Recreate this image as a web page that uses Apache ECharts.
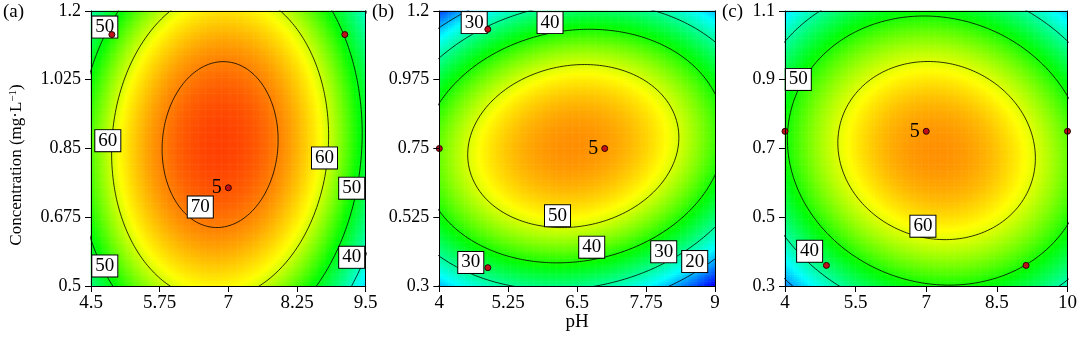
<!DOCTYPE html>
<html>
<head>
<meta charset="utf-8">
<script src="https://cdn.jsdelivr.net/npm/echarts@6/dist/echarts.min.js"></script>
<style>
  html, body { margin: 0; padding: 0; background: #fff; }
  #chart { width: 1080px; height: 342px; }
</style>
</head>
<body>
<div id="chart"></div>
<script>
// Fitted quadratic response models:
// [peak value, pH at peak, concentration at peak, pH² coefficient, conc² coefficient, pH·conc coefficient]
const modelA = [74, 6.85, 0.86, 3.6, 90, 2.0];
const modelB = [59.5, 6.43, 0.758, 2.62, 135, 4.0];
const modelC = [67.8, 7.22, 0.694, 1.785, 117, -2.44];

// Axis ticks
const pHTicksA = [4.5, 5.75, 7, 8.25, 9.5];
const concTicksA = [0.5, 0.675, 0.85, 1.025, 1.2];
const pHTicksB = [4, 5.25, 6.5, 7.75, 9];
const concTicksB = [0.3, 0.525, 0.75, 0.975, 1.2];
const pHTicksC = [4, 5.5, 7, 8.5, 10];
const concTicksC = [0.3, 0.5, 0.7, 0.9, 1.1];

// Contour levels
const levelsA = [40, 50, 60, 70];
const levelsB = [20, 30, 40, 50];
const levelsC = [30, 40, 50, 60];

// Contour level tags: [pH, concentration, level]
const tagsA = [[4.751, 1.159, 50], [4.806, 0.870, 60], [6.489, 0.701, 70], [8.750, 0.826, 60],
               [9.245, 0.749, 50], [9.245, 0.573, 40], [4.751, 0.551, 50]];
const tagsB = [[4.633, 1.162, 30], [6.008, 1.162, 40], [6.144, 0.530, 50], [6.764, 0.427, 40],
               [4.571, 0.377, 30], [8.070, 0.412, 30], [8.632, 0.380, 20]];
const tagsC = [[4.282, 0.901, 50], [6.929, 0.474, 60], [4.523, 0.401, 40]];

// Design points: [pH, concentration, replicate count]
const pointsA = [[4.88, 1.14, 1], [9.12, 1.14, 1], [7, 0.75, 5]];
const pointsB = [[4.88, 1.14, 1], [4, 0.75, 1], [7, 0.75, 5], [4.88, 0.36, 1]];
const pointsC = [[4, 0.75, 1], [7, 0.75, 5], [10, 0.75, 1], [4.88, 0.36, 1], [9.12, 0.36, 1]];

// Colour ramp anchors per panel: [value, colour]
const rampA = [[22, '#0000ff'], [37, '#00ffff'], [51, '#00ff00'], [62, '#ffff00'], [78, '#ff0000']];
const rampB = [[10, '#0000ff'], [24, '#00ffff'], [39, '#00ff00'], [52, '#ffff00'], [69, '#ff0000']];
const rampC = [[21, '#0000ff'], [35, '#00ffff'], [49, '#00ff00'], [61.5, '#ffff00'], [76, '#ff0000']];

const FONT = 'Liberation Serif';
const CELLS = 120;

const panels = [
  { model: modelA, xt: pHTicksA, yt: concTicksA, levels: levelsA, tags: tagsA, pts: pointsA, ramp: rampA,
    tag: '(a)', tagX: 3, grid: { left: 91, top: 11, width: 274.7, height: 275 } },
  { model: modelB, xt: pHTicksB, yt: concTicksB, levels: levelsB, tags: tagsB, pts: pointsB, ramp: rampB,
    tag: '(b)', tagX: 372, grid: { left: 439.3, top: 11, width: 275.7, height: 275 } },
  { model: modelC, xt: pHTicksC, yt: concTicksC, levels: levelsC, tags: tagsC, pts: pointsC, ramp: rampC,
    tag: '(c)', tagX: 722, grid: { left: 785, top: 11, width: 283.3, height: 275 } }
];

function response(m, x, y) {
  const dx = x - m[1], dy = y - m[2];
  return m[0] - m[3] * dx * dx - m[4] * dy * dy + m[5] * dx * dy;
}

function hex2rgb(h) {
  return [parseInt(h.slice(1, 3), 16), parseInt(h.slice(3, 5), 16), parseInt(h.slice(5, 7), 16)];
}
// Evenly spaced colour list for a continuous visualMap from uneven anchors
function rampColors(ramp, steps) {
  const lo = ramp[0][0], hi = ramp[ramp.length - 1][0];
  const out = [];
  for (let s = 0; s <= steps; s++) {
    const v = lo + (hi - lo) * s / steps;
    let k = 0;
    while (k < ramp.length - 2 && v > ramp[k + 1][0]) k++;
    const t = Math.min(1, Math.max(0, (v - ramp[k][0]) / (ramp[k + 1][0] - ramp[k][0])));
    const a = hex2rgb(ramp[k][1]), b = hex2rgb(ramp[k + 1][1]);
    const c = a.map((ai, i) => Math.round(ai + (b[i] - ai) * t));
    out.push('rgb(' + c.join(',') + ')');
  }
  return out;
}

// Closed contour of the quadratic surface at a given level
function contour(m, level, xr, yr) {
  const pts = [];
  const n = 360;
  for (let i = 0; i <= n; i++) {
    const th = 2 * Math.PI * i / n;
    const ux = Math.cos(th) * xr, uy = Math.sin(th) * yr;
    const q = m[3] * ux * ux + m[4] * uy * uy - m[5] * ux * uy;
    const r = Math.sqrt(Math.max(0, (m[0] - level) / q));
    pts.push([m[1] + r * ux, m[2] + r * uy]);
  }
  return pts;
}

const option = {
  animation: false,
  textStyle: { fontFamily: FONT, color: '#000' },
  grid: [], xAxis: [], yAxis: [], series: [], visualMap: [],
  graphic: []
};

const axisLineStyle = { color: '#000', width: 1 };

panels.forEach((p, k) => {
  option.grid.push(Object.assign({ containLabel: false }, p.grid));
  const xmin = p.xt[0], xmax = p.xt[p.xt.length - 1];
  const ymin = p.yt[0], ymax = p.yt[p.yt.length - 1];
  const cats = [];
  for (let i = 0; i < CELLS; i++) cats.push(i);

  option.xAxis.push({
    type: 'value', gridIndex: k, position: 'bottom', min: xmin, max: xmax,
    interval: p.xt[1] - p.xt[0], z: 10,
    axisLine: { show: true, onZero: false, lineStyle: axisLineStyle },
    axisTick: { show: true, length: 6, lineStyle: axisLineStyle },
    axisLabel: { color: '#000', fontFamily: FONT, fontSize: 19, margin: 8,
                 formatter: v => String(+v.toFixed(3)) },
    splitLine: { show: false }
  });
  option.xAxis.push({
    type: 'category', gridIndex: k, position: 'top', data: cats, boundaryGap: true, z: 10,
    axisLine: { show: true, lineStyle: axisLineStyle }, axisTick: { show: false },
    axisLabel: { show: false }, splitLine: { show: false }
  });
  option.yAxis.push({
    type: 'value', gridIndex: k, position: 'left', min: ymin, max: ymax,
    interval: p.yt[1] - p.yt[0], z: 10,
    axisLine: { show: true, onZero: false, lineStyle: axisLineStyle },
    axisTick: { show: true, length: 6, lineStyle: axisLineStyle },
    axisLabel: { color: '#000', fontFamily: FONT, fontSize: 18, margin: 10,
                 formatter: v => String(+v.toFixed(3)) },
    splitLine: { show: false }
  });
  option.yAxis.push({
    type: 'category', gridIndex: k, position: 'right', data: cats, boundaryGap: true, z: 10,
    axisLine: { show: true, lineStyle: axisLineStyle }, axisTick: { show: false },
    axisLabel: { show: false }, splitLine: { show: false }
  });

  // Response surface cells
  const cells = [];
  for (let i = 0; i < CELLS; i++) {
    const x = xmin + (i + 0.5) * (xmax - xmin) / CELLS;
    for (let j = 0; j < CELLS; j++) {
      const y = ymin + (j + 0.5) * (ymax - ymin) / CELLS;
      cells.push([i, j, response(p.model, x, y)]);
    }
  }
  const heatIndex = option.series.length;
  option.series.push({
    type: 'heatmap', xAxisIndex: 2 * k + 1, yAxisIndex: 2 * k + 1, data: cells,
    progressive: 0, silent: true, z: 1, emphasis: { disabled: true },
    itemStyle: { borderWidth: 0 }
  });
  option.visualMap.push({
    type: 'continuous', show: false, seriesIndex: heatIndex, dimension: 2,
    min: p.ramp[0][0], max: p.ramp[p.ramp.length - 1][0],
    inRange: { color: rampColors(p.ramp, 80) }
  });

  // Contour lines
  p.levels.forEach(lv => {
    option.series.push({
      type: 'line', xAxisIndex: 2 * k, yAxisIndex: 2 * k,
      data: contour(p.model, lv, xmax - xmin, ymax - ymin),
      symbol: 'none', smooth: false, clip: true, silent: true, z: 3,
      lineStyle: { color: '#000', width: 0.8 }
    });
  });

  // Contour level tags
  option.series.push({
    type: 'scatter', xAxisIndex: 2 * k, yAxisIndex: 2 * k, data: p.tags,
    symbolSize: 0, clip: false, silent: true, z: 6,
    itemStyle: { opacity: 1 },
    label: {
      show: true, position: 'inside', formatter: d => String(d.value[2]),
      color: '#000', fontFamily: FONT, fontSize: 19, lineHeight: 18,
      backgroundColor: '#ffffff', borderColor: '#000', borderWidth: 1, padding: [2, 3, 1, 3]
    }
  });

  // Design points
  option.series.push({
    type: 'scatter', xAxisIndex: 2 * k, yAxisIndex: 2 * k,
    data: p.pts.map(d => ({
      value: d,
      label: { show: d[2] > 1 }
    })),
    symbol: 'circle', symbolSize: 6, clip: false, silent: true, z: 7,
    itemStyle: { color: '#c0101a', borderColor: '#2a0000', borderWidth: 1, opacity: 1 },
    label: {
      show: false, position: 'left', distance: 3, formatter: d => String(d.value[2]),
      color: '#000', fontFamily: FONT, fontSize: 20
    }
  });

  option.graphic.push({
    type: 'text', x: p.tagX, y: 12,
    style: { text: p.tag, fill: '#000', fontFamily: FONT, fontSize: 19, verticalAlign: 'middle' }
  });
});

option.graphic.push({
  type: 'text', x: 17, y: 165, rotation: Math.PI / 2,
  style: {
    text: 'Concentration (mg·L{sup|−1})', fill: '#000', fontFamily: FONT, fontSize: 17,
    align: 'center', verticalAlign: 'middle',
    rich: { sup: { fontSize: 11, fontFamily: FONT, verticalAlign: 'top', fill: '#000', padding: [0, 0, 7, 0] } }
  }
});
option.graphic.push({
  type: 'text', x: 577, y: 322,
  style: { text: 'pH', fill: '#000', fontFamily: FONT, fontSize: 19, align: 'center', verticalAlign: 'middle' }
});

const chart = echarts.init(document.getElementById('chart'), null, { renderer: 'canvas' });
chart.setOption(option);
</script>
</body>
</html>
